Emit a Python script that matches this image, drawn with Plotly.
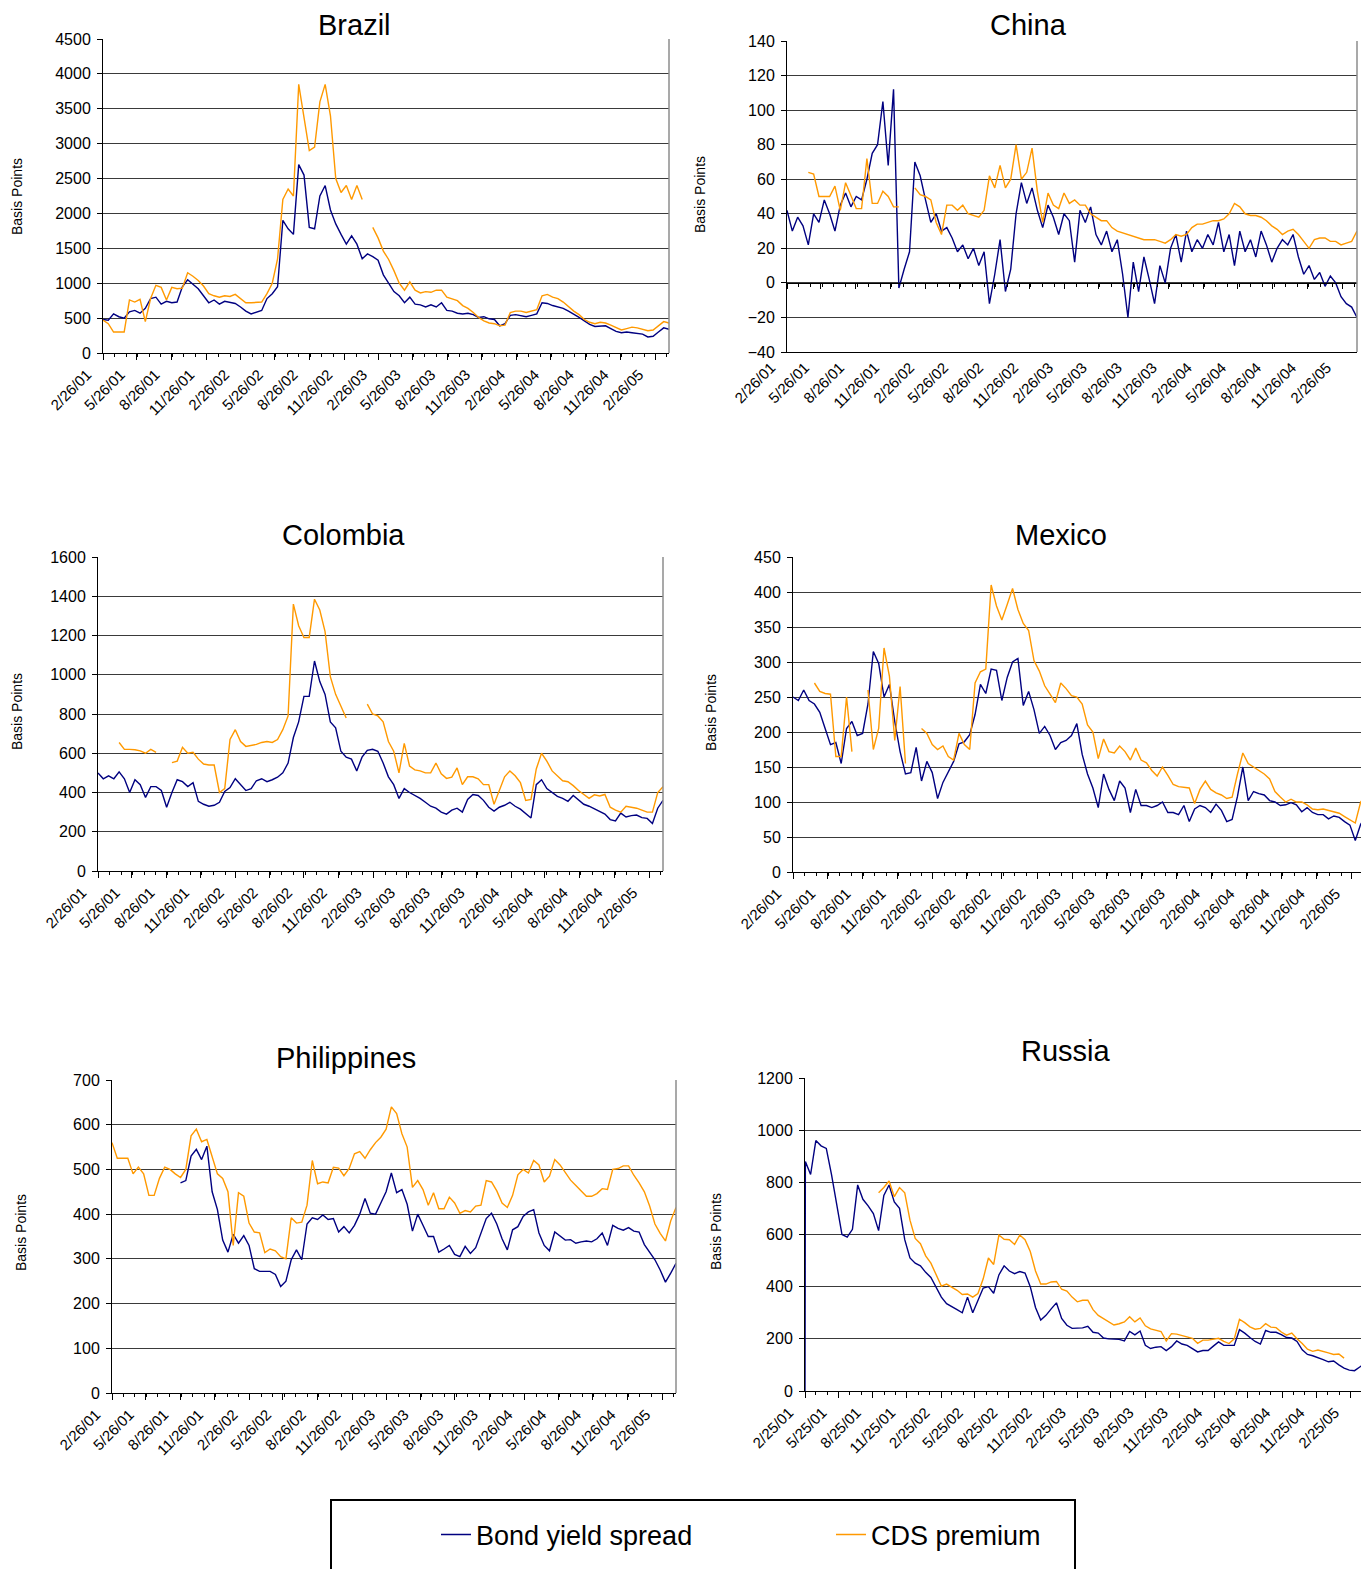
from datetime import datetime
import pandas as pd
import plotly.graph_objects as go

# ---------------- data (biweekly observations from 26 Feb 2001) ----------------
START = "2001-02-26"
N_OBS = 108
X_END = "2005-04-04"

TICKS = ["2/26/01", "5/26/01", "8/26/01", "11/26/01", "2/26/02", "5/26/02", "8/26/02",
         "11/26/02", "2/26/03", "5/26/03", "8/26/03", "11/26/03", "2/26/04", "5/26/04",
         "8/26/04", "11/26/04", "2/26/05"]
TICKS_RU = ["2/25/01", "5/25/01", "8/25/01", "11/25/01", "2/25/02", "5/25/02", "8/25/02",
            "11/25/02", "2/25/03", "5/25/03", "8/25/03", "11/25/03", "2/25/04", "5/25/04",
            "8/25/04", "11/25/04", "2/25/05"]

N = None

BRAZIL_BOND = [480, 470, 560, 520, 500, 590, 610, 570, 640, 780,
               800, 700, 740, 720, 730, 950, 1050, 990, 920, 820,
               720, 760, 700, 740, 730, 710, 660, 600, 560, 580,
               610, 780, 850, 950, 1900, 1780, 1700, 2700, 2550, 1800,
               1780, 2250, 2400, 2050, 1850, 1700, 1560, 1680, 1560, 1350,
               1420, 1380, 1330, 1120, 990, 880, 820, 720, 800, 700,
               690, 660, 690, 660, 720, 610, 600, 570, 560, 570,
               550, 510, 520, 490, 480, 390, 420, 540, 550, 530,
               520, 540, 560, 720, 710, 680, 660, 640, 600, 560,
               510, 460, 410, 380, 390, 390, 350, 310, 290, 300,
               290, 280, 270, 230, 240, 300, 360, 340]
BRAZIL_CDS = [470, 420, 300, 300, 300, 760, 730, 770, 450, 780,
              970, 940, 760, 940, 920, 930, 1150, 1100, 1040, 960,
              850, 820, 800, 820, 810, 840, 780, 720, 720, 720,
              730, 850, 1000, 1350, 2200, 2350, 2250, 3850, 3400, 2900,
              2950, 3600, 3850, 3400, 2500, 2300, 2400, 2200, 2400, 2200,
              N, 1800, 1650, 1460, 1340, 1180, 1000, 900, 1020, 900,
              860, 880, 870, 900, 900, 800, 780, 750, 680, 640,
              580, 510, 460, 430, 420, 390, 400, 580, 600, 600,
              580, 600, 620, 820, 840, 800, 780, 730, 660, 600,
              550, 480, 440, 420, 440, 430, 400, 360, 330, 350,
              370, 360, 345, 320, 330, 390, 450, 430]

CHINA_BOND = [42, 30, 38, 33, 22, 40, 35, 48, 40, 30,
              45, 52, 44, 50, 48, 60, 75, 80, 105, 68,
              112, -3, 8, 18, 70, 62, 48, 35, 40, 30,
              32, 26, 18, 22, 14, 20, 10, 18, -12, 5,
              25, -5, 8, 40, 58, 46, 55, 42, 32, 45,
              38, 28, 40, 36, 12, 42, 35, 44, 28, 22,
              30, 18, 25, 5, -20, 12, -5, 15, 2, -12,
              10, 0, 20, 28, 12, 30, 18, 25, 20, 28,
              22, 35, 18, 28, 10, 30, 18, 25, 15, 30,
              22, 12, 20, 25, 22, 28, 15, 5, 10, 2,
              6, -2, 4, 0, -8, -12, -14, -20]
CHINA_CDS = [47, N, 65, N, 64, 63, 50, 50, 50, 56,
             42, 58, 50, 43, 43, 72, 46, 46, 53, 50,
             44, 44, N, N, 55, 51, 50, 48, 35, 28,
             45, 45, 42, 45, 40, 39, 38, 42, 62, 55,
             68, 55, 60, 80, 60, 64, 78, 53, 35, 52,
             45, 43, 52, 46, 48, 45, 45, 40, 38, 36,
             36, 32, 30, 29, 28, 27, 26, 25, 25, 25,
             24, 23, 25, 28, 27, 28, 32, 34, 34, 35,
             36, 36, 37, 40, 46, 44, 40, 39, 39, 38,
             36, 33, 31, 28, 30, 31, 28, 24, 20, 25,
             26, 26, 24, 24, 22, 23, 24, 30]

COLOMBIA_BOND = [500, 470, 485, 470, 505, 470, 400, 465, 440, 375,
                 430, 430, 410, 325, 400, 465, 455, 430, 450, 355,
                 340, 330, 335, 350, 405, 425, 470, 440, 410, 420,
                 460, 470, 455, 465, 478, 500, 550, 680, 760, 890,
                 890, 1070, 965, 900, 760, 730, 610, 580, 570, 510,
                 580, 615, 620, 610, 550, 480, 440, 370, 420, 400,
                 385, 370, 350, 330, 320, 300, 290, 310, 320, 300,
                 365, 390, 385, 360, 325, 305, 325, 335, 350, 330,
                 315, 290, 270, 440, 465, 420, 400, 380, 370, 355,
                 385, 360, 340, 330, 318, 305, 290, 262, 255, 295,
                 275, 282, 285, 272, 268, 242, 320, 360]
COLOMBIA_CDS = [N, N, N, N, 655, 620, 620, 618, 612, 600,
                620, 605, N, N, 552, 560, 630, 600, 605, 570,
                545, 540, 540, 400, 420, 670, 720, 660, 635, 640,
                645, 655, 660, 655, 670, 720, 790, 1360, 1250, 1190,
                1190, 1385, 1330, 1220, 990, 900, 840, 780, N, N,
                N, 850, 800, 790, 760, 660, 610, 500, 650, 535,
                515, 510, 500, 500, 550, 495, 472, 478, 525, 440,
                480, 480, 470, 440, 440, 340, 410, 480, 510, 485,
                450, 360, 365, 520, 600, 560, 510, 485, 460, 455,
                435, 410, 392, 370, 388, 382, 390, 325, 310, 300,
                330, 325, 320, 310, 300, 300, 400, 430]

MEXICO_BOND = [250, 245, 260, 245, 240, 228, 205, 182, 185, 155,
               205, 215, 195, 198, 240, 315, 298, 250, 268, 215,
               172, 140, 142, 178, 130, 158, 142, 105, 128, 142,
               158, 183, 186, 196, 225, 268, 255, 290, 288, 245,
               278, 300, 305, 238, 258, 232, 198, 208, 195, 175,
               185, 188, 195, 212, 168, 140, 120, 92, 140, 118,
               102, 130, 120, 85, 118, 95, 95, 92, 95, 100,
               85, 85, 82, 95, 72, 90, 95, 92, 85, 97,
               88, 72, 75, 108, 150, 102, 115, 112, 110, 102,
               100, 95, 96, 99, 96, 86, 92, 85, 82, 82,
               76, 80, 78, 72, 67, 45, 68, 80]
MEXICO_CDS = [N, N, N, N, 270, 258, 255, 254, 165, 165,
              250, 172, N, N, 260, 175, 205, 320, 280, 188,
              265, 155, N, N, 205, 198, 182, 175, 180, 165,
              160, 198, 182, 175, 270, 286, 290, 410, 380, 360,
              382, 405, 375, 355, 345, 302, 287, 266, 254, 242,
              270, 262, 252, 250, 240, 210, 200, 162, 190, 172,
              170, 180, 172, 160, 177, 160, 156, 145, 137, 150,
              138, 125, 122, 121, 120, 98, 118, 130, 118, 113,
              110, 105, 107, 140, 170, 155, 150, 146, 140, 133,
              115, 107, 100, 104, 100, 100, 96, 90, 89, 90,
              88, 85, 84, 79, 74, 70, 100, 110]

PHILIPPINES_BOND = [N, N, N, N, N, N, N, N, N, N,
                    N, N, N, 470, 475, 530, 545, 522, 552, 450,
                    410, 342, 315, 355, 335, 352, 330, 278, 272, 272,
                    272, 265, 238, 250, 298, 320, 298, 378, 392, 388,
                    398, 388, 390, 360, 372, 358, 375, 400, 435, 402,
                    400, 425, 450, 492, 448, 455, 422, 362, 400, 375,
                    350, 350, 315, 322, 330, 310, 305, 328, 312, 325,
                    360, 390, 402, 378, 345, 320, 365, 372, 395, 405,
                    410, 358, 330, 318, 360, 350, 342, 343, 335, 338,
                    340, 338, 345, 358, 330, 375, 368, 364, 370, 362,
                    360, 332, 315, 298, 275, 248, 268, 290]
PHILIPPINES_CDS = [560, 525, 525, 525, 490, 505, 490, 442, 442, 480,
                   505, 500, 490, 482, 500, 575, 590, 562, 567, 530,
                   490, 480, 450, 330, 448, 440, 380, 360, 358, 314,
                   322, 318, 305, 300, 392, 380, 382, 420, 520, 468,
                   472, 470, 505, 503, 486, 502, 535, 540, 525, 544,
                   560, 572, 590, 640, 625, 580, 550, 460, 475, 455,
                   420, 448, 412, 412, 438, 425, 402, 408, 405, 418,
                   420, 475, 472, 452, 425, 415, 442, 488, 500, 492,
                   520, 510, 472, 485, 522, 510, 492, 476, 464, 452,
                   440, 440, 446, 457, 455, 500, 502, 508, 508, 487,
                   470, 450, 418, 378, 357, 340, 385, 415]

# Russia: first reading (25 Feb 2001) is 0, then the biweekly grid
RUSSIA_BOND = [0,
               880, 830, 960, 940, 930, 830, 710, 600, 590, 620,
               790, 735, 710, 680, 615, 750, 790, 725, 700, 580,
               510, 490, 480, 455, 435, 398, 360, 335, 322, 312,
               300, 360, 300, 345, 395, 400, 375, 445, 480, 460,
               450, 458, 452, 400, 320, 272, 290, 315, 338, 278,
               252, 240, 240, 242, 248, 225, 222, 203, 200, 198,
               198, 192, 228, 215, 230, 175, 163, 168, 170, 155,
               170, 192, 180, 175, 162, 150, 155, 155, 172, 188,
               175, 175, 175, 235, 222, 205, 190, 180, 232, 225,
               225, 216, 205, 203, 190, 158, 140, 135, 126, 120,
               112, 115, 100, 88, 80, 78, 92, 105]
RUSSIA_CDS = [N,
              N, N, N, N, N, N, N, N, N, N,
              N, N, N, N, 760, 780, 805, 745, 780, 760,
              655, 585, 565, 518, 490, 448, 402, 410, 398, 386,
              370, 372, 360, 374, 430, 510, 485, 598, 582, 580,
              562, 598, 580, 535, 460, 410, 410, 418, 420, 390,
              383, 360, 342, 348, 348, 312, 290, 277, 265, 253,
              258, 265, 285, 265, 280, 250, 238, 232, 228, 192,
              220, 218, 212, 206, 202, 183, 195, 195, 198, 202,
              190, 182, 200, 275, 262, 246, 237, 240, 258, 245,
              243, 226, 214, 222, 200, 182, 160, 152, 157, 150,
              146, 140, 142, 126, N, N, N, N]

# ---------------- layout helpers ----------------
OFF = 8                      # the page body margin
W, H = 1369 - OFF, 1569 - OFF
FONT = "Liberation Sans, Arial, sans-serif"
BOND_COLOR = "#000080"
CDS_COLOR = "#FF9900"
GRID = "#3a3a3a"


def fx(px):
    return (px - OFF) / W


def fy(py):
    return 1 - (py - OFF) / H


dates = list(pd.date_range(START, periods=N_OBS, freq="14D"))
ru_dates = [pd.Timestamp("2001-02-25")] + dates


def tv(labels):
    return [datetime.strptime(s, "%m/%d/%y").strftime("%Y-%m-%d") for s in labels]


PANELS = [
    dict(name="Brazil", bond=BRAZIL_BOND, cds=BRAZIL_CDS, x=dates, ticks=TICKS, start="2001-02-26",
         xpx=(103, 669), ypx=(39, 353), yr=(0, 4500), dy=500, tpos=(354, None), ytpos=(17, 197)),
    dict(name="China", bond=CHINA_BOND, cds=CHINA_CDS, x=dates, ticks=TICKS, start="2001-02-26",
         xpx=(787, 1357), ypx=(41, 352), yr=(-40, 140), dy=20, tpos=(1028, None), ytpos=(700, 195)),
    dict(name="Colombia", bond=COLOMBIA_BOND, cds=COLOMBIA_CDS, x=dates, ticks=TICKS, start="2001-02-26",
         xpx=(98, 663), ypx=(557, 871), yr=(0, 1600), dy=200, tpos=(343, 535), ytpos=(17, 712)),
    dict(name="Mexico", bond=MEXICO_BOND, cds=MEXICO_CDS, x=dates, ticks=TICKS, start="2001-02-26",
         xpx=(793, 1366), ypx=(557, 872), yr=(0, 450), dy=50, tpos=(1061, 535), ytpos=(711, 712)),
    dict(name="Philippines", bond=PHILIPPINES_BOND, cds=PHILIPPINES_CDS, x=dates, ticks=TICKS,
         start="2001-02-26", xpx=(112, 676), ypx=(1080, 1393), yr=(0, 700), dy=100,
         tpos=(346, 1058), ytpos=(21, 1233)),
    dict(name="Russia", bond=RUSSIA_BOND, cds=RUSSIA_CDS, x=ru_dates, ticks=TICKS_RU, start="2001-02-25",
         xpx=(805, 1365), ypx=(1078, 1391), yr=(0, 1200), dy=200, tpos=(1066, 1051), ytpos=(716, 1232)),
]

fig = go.Figure()
layout = dict(
    width=W, height=H,
    margin=dict(l=0, r=0, t=0, b=0, autoexpand=False),
    paper_bgcolor="white", plot_bgcolor="white",
    font=dict(family=FONT, color="black"),
    showlegend=True,
    legend=dict(orientation="h", x=fx(436), y=fy(1535), xanchor="left", yanchor="middle",
                font=dict(size=27, family=FONT), bgcolor="rgba(0,0,0,0)", borderwidth=0,
                entrywidth=350, entrywidthmode="pixels", itemwidth=30, traceorder="normal"),
)
annotations = []
shapes = []

for k, p in enumerate(PANELS, start=1):
    sfx = "" if k == 1 else str(k)
    xa, ya = "x" + sfx, "y" + sfx
    xd = [fx(p["xpx"][0]), fx(p["xpx"][1])]
    yd = [fy(p["ypx"][1]), fy(p["ypx"][0])]
    xrange = [p["start"], X_END]
    china = p["name"] == "China"

    fig.add_trace(go.Scatter(x=p["x"], y=p["bond"], mode="lines", name="Bond yield spread",
                             line=dict(color=BOND_COLOR, width=1.4), connectgaps=False,
                             showlegend=(k == 1), legendgroup="bond", xaxis=xa, yaxis=ya))
    cds_x = "x7" if china else xa
    fig.add_trace(go.Scatter(x=p["x"], y=p["cds"], mode="lines", name="CDS premium",
                             line=dict(color=CDS_COLOR, width=1.4), connectgaps=False,
                             showlegend=(k == 1), legendgroup="cds", xaxis=cds_x, yaxis=ya))

    xaxis = dict(domain=xd, anchor=ya, type="date", range=xrange,
                 tickmode="array", tickvals=tv(p["ticks"]), ticktext=p["ticks"],
                 tickangle=-45, tickfont=dict(size=15, family=FONT), ticklabelshift=-16,
                 showgrid=False, zeroline=False, showline=True, linecolor="black", linewidth=1)
    if china:
        xaxis.update(ticks="")
    else:
        xaxis.update(ticks="outside", ticklen=6, tickcolor="black", tickwidth=1,
                     minor=dict(ticks="outside", ticklen=3, tickcolor="black", dtick="M1",
                                tick0=p["start"], showgrid=False))
    layout["xaxis" + sfx] = xaxis
    layout["yaxis" + sfx] = dict(domain=yd, anchor=xa, range=list(p["yr"]), tickmode="linear",
                                 tick0=p["yr"][0], dtick=p["dy"], showgrid=True, gridcolor=GRID,
                                 gridwidth=1, zeroline=False, showline=True, linecolor="black",
                                 linewidth=1, ticks="outside", ticklen=5, tickcolor="black",
                                 ticklabelstandoff=3, tickfont=dict(size=16, family=FONT))
    if china:
        zero_pos = yd[0] + (0 - p["yr"][0]) / (p["yr"][1] - p["yr"][0]) * (yd[1] - yd[0])
        layout["xaxis7"] = dict(overlaying="x2", anchor="free", position=zero_pos, type="date",
                                range=xrange, tickmode="array", tickvals=tv(p["ticks"]),
                                showticklabels=False, ticks="outside", ticklen=5, tickcolor="black",
                                minor=dict(ticks="outside", ticklen=3, tickcolor="black", dtick="M1",
                                           tick0=p["start"], showgrid=False),
                                showgrid=False, zeroline=False, showline=True, linecolor="black",
                                linewidth=1)

    # right-hand frame of the plot area
    shapes.append(dict(type="line", xref=xa + " domain", yref=ya + " domain", x0=1, x1=1, y0=0, y1=1,
                       line=dict(color="#8c8c8c", width=1.5)))
    if p["tpos"][1] is None:      # top-row titles sit against the top edge of the figure
        ty, tanchor = 1.0, "top"
    else:
        ty, tanchor = fy(p["tpos"][1]), "middle"
    annotations.append(dict(text=p["name"], x=fx(p["tpos"][0]), y=ty,
                            xref="paper", yref="paper", xanchor="center", yanchor=tanchor,
                            showarrow=False, borderpad=0,
                            font=dict(size=29, family=FONT, color="black")))
    annotations.append(dict(text="Basis Points", x=fx(p["ytpos"][0]), y=fy(p["ytpos"][1]),
                            xref="paper", yref="paper", xanchor="center", yanchor="middle",
                            textangle=-90, showarrow=False, font=dict(size=14, family=FONT)))

# legend frame
shapes.append(dict(type="rect", xref="paper", yref="paper", x0=fx(331), x1=fx(1075),
                   y0=fy(1500), y1=-0.2, line=dict(color="black", width=2),
                   fillcolor="rgba(0,0,0,0)"))

layout["annotations"] = annotations
layout["shapes"] = shapes
fig.update_layout(**layout)
fig.write_html("out.html")
